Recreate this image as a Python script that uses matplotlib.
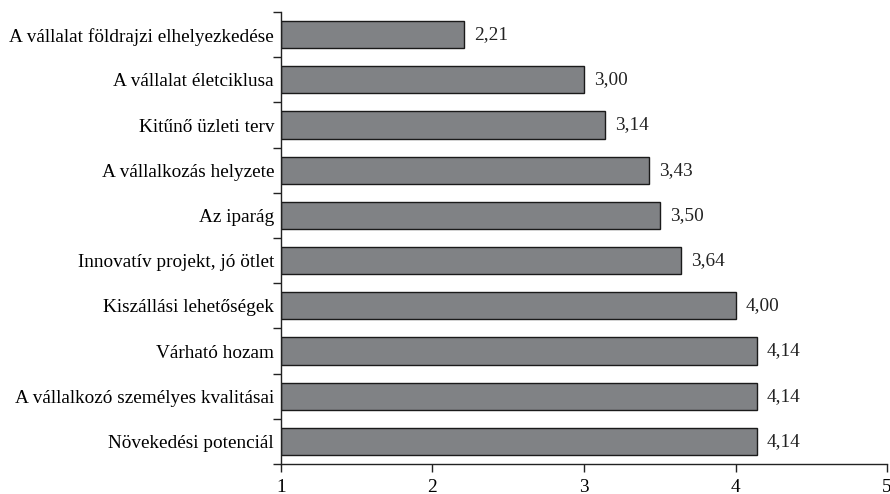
import matplotlib
matplotlib.use("Agg")
import matplotlib.pyplot as plt
import numpy as np

plt.rcParams.update({"font.family": "serif", "font.serif": ["Liberation Serif", "DejaVu Serif"]})

categories = [
    "A vállalat földrajzi elhelyezkedése",
    "A vállalat életciklusa",
    "Kitűnő üzleti terv",
    "A vállalkozás helyzete",
    "Az iparág",
    "Innovatív projekt, jó ötlet",
    "Kiszállási lehetőségek",
    "Várható hozam",
    "A vállalkozó személyes kvalitásai",
    "Növekedési potenciál",
]
values = [2.21, 3.00, 3.14, 3.43, 3.50, 3.64, 4.00, 4.14, 4.14, 4.14]
xticks = [1, 2, 3, 4, 5]

FS = 13.9

fig = plt.figure(figsize=(8.9, 4.94), dpi=100)
ax = fig.add_axes([0.3157, 0.0607, 0.681, 0.915])

y = np.arange(len(categories))
ax.barh(y, np.array(values) - 1, left=1, height=0.6, color="#808285",
        edgecolor="#1a1a1a", linewidth=1.0)
for yi, v in zip(y, values):
    ax.text(v + 0.065, yi, f"{v:.2f}".replace(".", ","), va="center", ha="left",
            fontsize=FS, color="#222222")

ax.set_xlim(1, 5)
ax.set_ylim(len(categories) - 0.5, -0.5)
ax.set_xticks(xticks)
ax.set_xticklabels([str(t) for t in xticks], fontsize=FS)
ax.set_yticks(y)
ax.set_yticklabels(categories, fontsize=FS)
ax.tick_params(axis="y", length=0, pad=5)
# category boundaries carry the y tick marks
ax.set_yticks(np.arange(-0.5, len(categories), 1), minor=True)
ax.tick_params(axis="y", which="minor", length=6, width=1.0, color="#222222")
ax.tick_params(axis="x", length=6, width=1.0, color="#222222", pad=5)

for s in ["top", "right"]:
    ax.spines[s].set_visible(False)
for s in ["left", "bottom"]:
    ax.spines[s].set_color("#222222")
    ax.spines[s].set_linewidth(1.0)

fig.savefig("out.png", facecolor="white")
